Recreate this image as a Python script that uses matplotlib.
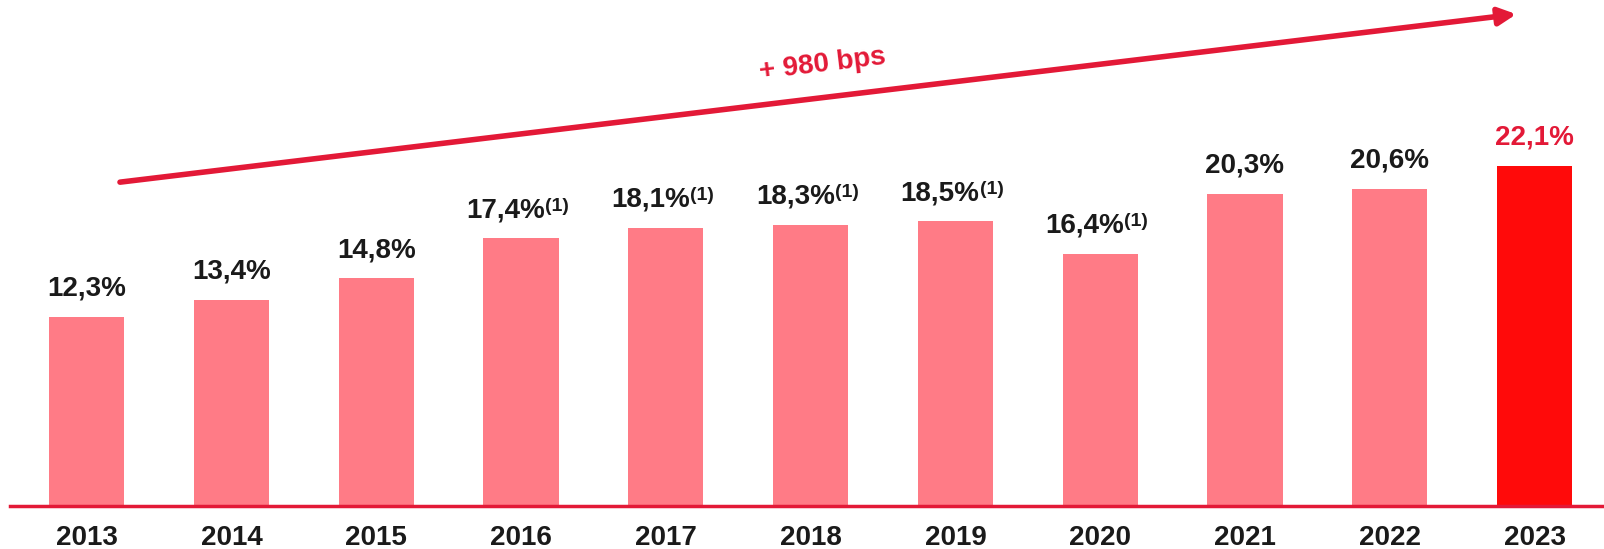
import matplotlib.pyplot as plt
from matplotlib.patches import FancyArrowPatch

years = ['2013', '2014', '2015', '2016', '2017', '2018', '2019', '2020', '2021', '2022', '2023']
values = [12.3, 13.4, 14.8, 17.4, 18.1, 18.3, 18.5, 16.4, 20.3, 20.6, 22.1]
labels = ['12,3%', '13,4%', '14,8%', '17,4%', '18,1%', '18,3%', '18,5%', '16,4%', '20,3%', '20,6%', '22,1%']
footnote = [False, False, False, True, True, True, True, True, False, False, False]
growth_text = '+ 980 bps'

red = '#e31937'
pink = '#ff7b86'
highlight = '#ff0a0a'
dark = '#1a1a1a'

plt.rcParams['font.family'] = ['Liberation Sans', 'DejaVu Sans']

fig = plt.figure(figsize=(16.04, 5.49), dpi=100)
ax = fig.add_axes([10 / 1604, 43 / 549, 1 - 10 / 1604, 506 / 549])

x = list(range(len(years)))
colors = [pink] * (len(years) - 1) + [highlight]
ax.bar(x, values, width=0.52, color=colors, zorder=2)

for i, (v, lab) in enumerate(zip(values, labels)):
    last = i == len(years) - 1
    if footnote[i]:
        t = ax.annotate(lab, (i, v), xytext=(-11, 11), textcoords='offset points',
                        ha='center', va='bottom', fontsize=20, fontweight='bold', color=dark)
        ax.annotate('(1)', xy=(1.0, 0.98), xycoords=t, ha='left', va='top',
                    fontsize=14, fontweight='bold', color=dark)
    else:
        ax.annotate(lab, (i, v), xytext=(0, 11), textcoords='offset points',
                    ha='center', va='bottom', fontsize=20, fontweight='bold',
                    color=red if last else dark)

ax.set_xlim(-0.53, 10.48)
ax.set_ylim(0, 32.9)
ax.set_xticks(x)
ax.set_xticklabels(years, fontsize=20, fontweight='bold', color=dark)
ax.tick_params(axis='x', length=0, pad=14)
ax.set_yticks([])
for s in ['top', 'right', 'left']:
    ax.spines[s].set_visible(False)
ax.spines['bottom'].set_color(red)
ax.spines['bottom'].set_linewidth(2.5)
ax.spines['bottom'].set_zorder(3)

# growth arrow
arrow = FancyArrowPatch((0.069, 0.640), (0.945, 0.972), transform=ax.transAxes,
                        arrowstyle='-|>', mutation_scale=26, lw=4, color=red,
                        shrinkA=0, shrinkB=0, clip_on=False)
ax.add_patch(arrow)
ax.text(0.510, 0.872, growth_text, transform=ax.transAxes, ha='center', va='center',
        rotation=6.9, fontsize=20, fontweight='bold', color=red)

fig.savefig('out.png', dpi=100)
